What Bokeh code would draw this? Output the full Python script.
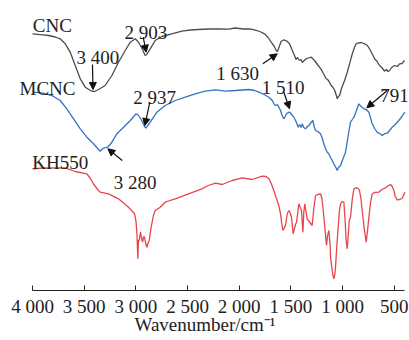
from bokeh.plotting import figure
from bokeh.models import Range1d, FixedTicker, Arrow, NormalHead
from bokeh.core.properties import value
from bokeh.embed import file_html
from bokeh.resources import INLINE

# Wavenumber (cm^-1) and offset absorbance-like depth (a.u., larger = lower on chart)
cnc_wn = [4000, 3900, 3845, 3780, 3732, 3684, 3635, 3587, 3538, 3490, 3426, 3400, 3361, 3297, 3232, 3168,
          3103, 3054, 3006, 2974, 2940, 2910, 2895, 2861, 2813, 2749, 2652, 2555, 2470, 2394, 2300, 2200,
          2100, 2040, 1960, 1900, 1852, 1800, 1755, 1720, 1690, 1660, 1642, 1630, 1615, 1595, 1568, 1540,
          1513, 1490, 1465, 1450, 1435, 1416, 1400, 1390, 1370, 1352, 1330, 1303, 1285, 1271, 1250, 1235,
          1223, 1200, 1185, 1174, 1160, 1145, 1126, 1110, 1094, 1075, 1060, 1051, 1040, 1029, 1010, 980,
          955, 932, 905, 884, 870, 852, 820, 787, 760, 739, 715, 690, 665, 642, 620, 594, 575, 560, 545,
          525, 497, 470, 448, 425, 400]
cnc_val = [33.3, 34.3, 35, 36.5, 38.3, 43.3, 51.7, 65, 78.3, 86.7, 90.7, 91, 89, 85, 75, 61.7,
           50, 41.7, 38.3, 41.7, 48, 55, 54, 48.3, 40, 36, 33.3, 30.7, 29.5, 29, 28.5, 28.3,
           28.6, 27.5, 28.5, 28.3, 29.3, 31, 33.3, 37, 41.7, 46, 50, 51, 46.7, 41, 39.3, 40.5,
           43.3, 49, 55, 59, 57, 60, 59, 62, 60, 58.3, 57.5, 56.7, 58.5, 60, 63, 65,
           66.7, 70, 73, 75, 78, 79, 81.7, 85, 86.7, 90, 95, 98.3, 96, 95, 88, 80,
           72, 63.3, 53, 46.7, 43.5, 42.7, 42, 43.3, 45, 48.3, 53, 58.3, 61, 65, 67, 70.7, 69, 71, 70,
           67, 65, 66, 63.3, 63, 60]

mcnc_wn = [4000, 3910, 3813, 3732, 3668, 3603, 3538, 3474, 3410, 3370, 3345, 3325, 3313, 3290, 3274, 3250,
           3232, 3184, 3119, 3054, 3020, 3000, 2974, 2955, 2935, 2915, 2903, 2885, 2861, 2797, 2716, 2619,
           2522, 2426, 2329, 2229, 2132, 2036, 1970, 1907, 1850, 1810, 1760, 1713, 1680, 1660, 1648, 1630,
           1616, 1600, 1585, 1568, 1555, 1542, 1525, 1513, 1500, 1485, 1471, 1450, 1429, 1415, 1400, 1390,
           1375, 1358, 1340, 1326, 1305, 1287, 1275, 1261, 1240, 1213, 1195, 1181, 1165, 1148, 1135, 1116,
           1100, 1084, 1070, 1060, 1051, 1040, 1019, 995, 971, 945, 923, 905, 890, 865, 842, 820, 794,
           770, 745, 730, 713, 690, 665, 640, 616, 590, 568, 545, 519, 490, 455, 425, 397]
mcnc_val = [91.7, 92.3, 95, 100, 108.3, 118.3, 128.3, 136.7, 143.3, 148, 150.7, 148.5, 147.7, 147, 146.7, 144,
            141.7, 133.3, 126.7, 120, 116, 113.3, 115, 118, 121.7, 126, 127.7, 125, 121.7, 111.7, 105, 100,
            96.7, 93.3, 90.7, 89.3, 90.7, 90, 89.5, 89, 90, 91.7, 94, 96.7, 100, 104, 105, 104,
            106.7, 110, 115, 118.3, 116, 113.3, 112, 111.7, 113, 115, 116.7, 121, 126.7, 124, 127, 123.3,
            127, 128.3, 126, 125, 122, 120, 126, 130, 131, 133.3, 138, 143.3, 148, 151.7, 153, 156.7,
            160, 163.3, 166, 168, 170, 167, 165, 158, 151.7, 135, 121.7, 119, 116.7, 110, 103.3, 106, 108.3,
            109, 111.7, 117, 123.3, 128, 131.7, 133, 135, 133, 132.7, 130, 126.7, 124, 120, 116, 111.7]

kh_wn = [4000, 3900, 3845, 3760, 3684, 3587, 3474, 3440, 3410, 3370, 3345, 3265, 3168, 3071, 3013, 3000,
         2990, 2981, 2975, 2968, 2955, 2945, 2935, 2925, 2916, 2905, 2894, 2880, 2871, 2852, 2830, 2813,
         2765, 2716, 2700, 2619, 2490, 2361, 2300, 2229, 2165, 2068, 1971, 1874, 1777, 1740, 1713, 1690,
         1665, 1650, 1632, 1615, 1600, 1590, 1577, 1565, 1552, 1535, 1519, 1505, 1494, 1478, 1465, 1455,
         1445, 1433, 1423, 1410, 1397, 1384, 1375, 1365, 1355, 1342, 1330, 1294, 1280, 1261, 1240, 1213,
         1200, 1190, 1171, 1160, 1155, 1145, 1132, 1120, 1116, 1100, 1092, 1084, 1076, 1068, 1055, 1042,
         1030, 1019, 1005, 987, 975, 965, 955, 945, 935, 923, 905, 890, 875, 861, 848, 836, 822, 810,
         790, 771, 758, 745, 730, 713, 690, 649, 620, 584, 555, 536, 520, 503, 490, 471, 445, 423, 410, 397]
kh_val = [168.3, 167.5, 167.3, 167.3, 167.3, 171, 173.3, 178, 183.3, 189, 191.7, 193.3, 198.3, 206.7, 213.3, 220,
          232, 258.3, 240, 240, 231.7, 238, 241.7, 236, 236.7, 243, 246.7, 242, 240, 226.7, 215, 210,
          206.7, 201.7, 201, 198.3, 193.3, 188.3, 185, 182.7, 184, 180, 177.3, 179, 175.7, 176, 178.3, 183,
          190, 195, 200, 206, 213.3, 222, 230, 228, 225, 213, 210, 213, 216.7, 233.3, 228, 224,
          221.7, 212, 203.3, 207, 210, 231.7, 212, 203.3, 210, 218.3, 220, 225, 210, 195, 194, 193.3,
          198, 206.7, 226.7, 240, 245, 235, 230, 245, 256.7, 270, 275, 278.3, 275, 266.7, 245, 226.7,
          210, 203.3, 201, 201.7, 220, 240, 248.3, 235, 220, 216.7, 198, 188.3, 187.5, 187.3, 188, 190, 198, 210,
          228, 241.7, 230, 216.7, 203, 193.3, 192, 191.7, 189, 187.3, 185, 184, 186, 190, 196, 199.3, 199, 197.7, 195, 191.7]

tick_values = [4000, 3500, 3000, 2500, 2000, 1500, 1000, 500]
tick_labels = ["4 000", "3 500", "3 000", "2 500", "2 000", "1 500", "1 000", "500"]
x_title = "Wavenumber/cm\u207b\u00b9"

series_names = ["CNC", "MCNC", "KH550"]
name_x = [3997, 4126, 4003]
name_y = [25, 88, 162]

peak_labels = ["3 400", "2 903", "2 937", "3 280", "1 630", "1 510", "791"]
peak_text_x = [3574, 3110, 3026, 3213, 2222, 1781, 635]
peak_text_y = [57.3, 31.7, 96.7, 181.7, 73.3, 87.3, 95]
arrow_x0 = [3420, 2929, 2865, 3132, 1771, 1568, 567]
arrow_y0 = [64, 36.7, 101.7, 160, 63.3, 91.7, 90]
arrow_x1 = [3415, 2900, 2913, 3271, 1632, 1513, 765]
arrow_y1 = [89, 51.7, 125, 148.3, 53.3, 108.3, 107.3]

FONT = "Liberation Serif"

p = figure(width=409, height=340, output_backend="svg", toolbar_location=None,
           x_range=Range1d(4310, 352), y_range=Range1d(290, 0),
           y_axis_location=None, min_border_left=0, min_border_right=0,
           min_border_top=0, min_border_bottom=50)
p.outline_line_color = None
p.xgrid.visible = False
p.ygrid.visible = False
p.background_fill_color = "white"
p.border_fill_color = "white"

p.line(cnc_wn, cnc_val, line_color="#4d4d4d", line_width=1.3)
p.line(mcnc_wn, mcnc_val, line_color="#3470c4", line_width=1.3)
p.line(kh_wn, kh_val, line_color="#e8444c", line_width=1.3)

ax = p.xaxis[0]
ax.bounds = (400, 4000)
ax.ticker = FixedTicker(ticks=tick_values, minor_ticks=[])
ax.major_label_overrides = {v: l for v, l in zip(tick_values, tick_labels)}
ax.major_tick_in = 5
ax.major_tick_out = 0
ax.minor_tick_in = 0
ax.minor_tick_out = 0
ax.axis_line_color = "#222222"
ax.major_tick_line_color = "#222222"
ax.major_label_text_font = FONT
ax.major_label_text_font_size = "19px"
ax.major_label_text_color = "#222222"
ax.major_label_standoff = 5
ax.axis_label = x_title
ax.axis_label_text_font = FONT
ax.axis_label_text_font_size = "19px"
ax.axis_label_text_font_style = "normal"
ax.axis_label_text_color = "#222222"
ax.axis_label_standoff = -6

p.text(name_x, name_y, text=series_names, text_font=value(FONT), text_font_size="19px",
       text_color="#222222", text_align="left", text_baseline="alphabetic")
p.text(peak_text_x, peak_text_y, text=peak_labels, text_font=value(FONT), text_font_size="19px",
       text_color="#222222", text_align="left", text_baseline="alphabetic")

for x0, y0, x1, y1 in zip(arrow_x0, arrow_y0, arrow_x1, arrow_y1):
    p.add_layout(Arrow(x_start=x0, y_start=y0, x_end=x1, y_end=y1, line_color="#111111", line_width=1.2,
                       end=NormalHead(size=7, fill_color="#111111", line_color="#111111")))

open("out.html", "w").write(file_html(p, INLINE))
